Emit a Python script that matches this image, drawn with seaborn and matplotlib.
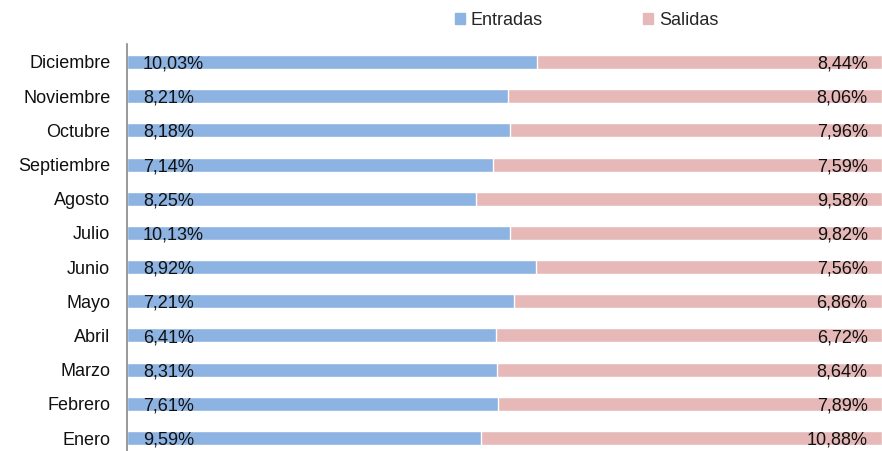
import numpy as np
import pandas as pd
import matplotlib.pyplot as plt
import seaborn as sns
from matplotlib.patches import Patch

meses = ['Enero', 'Febrero', 'Marzo', 'Abril', 'Mayo', 'Junio', 'Julio',
         'Agosto', 'Septiembre', 'Octubre', 'Noviembre', 'Diciembre']
entradas = [9.59, 7.61, 8.31, 6.41, 7.21, 8.92, 10.13, 8.25, 7.14, 8.18, 8.21, 10.03]
salidas = [10.88, 7.89, 8.64, 6.72, 6.86, 7.56, 9.82, 9.58, 7.59, 7.96, 8.06, 8.44]

azul = '#8DB3E2'
rosa = '#E6B9B8'

df = pd.DataFrame({'Mes': meses, 'Entradas': entradas, 'Salidas': salidas})
df['Total'] = df['Entradas'] + df['Salidas']
df['share_ent'] = df['Entradas'] / df['Total']
df['share_tot'] = 1.0
orden = meses[::-1]

sns.set_style('white')
plt.rcParams['font.family'] = ['Liberation Sans', 'DejaVu Sans']
fs = 13

fig = plt.figure(figsize=(8.82, 4.51), dpi=100)
ax = fig.add_axes([0.144, 0.0, 0.856, 0.902])

sns.barplot(data=df, x='share_tot', y='Mes', order=orden, color=rosa,
            width=0.41, saturation=1, ax=ax, orient='h')
sns.barplot(data=df, x='share_ent', y='Mes', order=orden, color=azul,
            width=0.41, saturation=1, ax=ax, orient='h')

for i, mes in enumerate(orden):
    row = df[df['Mes'] == mes].iloc[0]
    ax.text(0.021, i + 0.06, f"{row['Entradas']:.2f}%".replace('.', ','),
            va='center', ha='left', fontsize=fs, color='#111111')
    ax.text(0.981, i + 0.06, f"{row['Salidas']:.2f}%".replace('.', ','),
            va='center', ha='right', fontsize=fs, color='#111111')

ax.set_xlim(0, 1)
ax.set_ylim(11.38, -0.52)
ax.set_xlabel('')
ax.set_ylabel('')
ax.set_xticks([])
ax.tick_params(axis='y', length=0, labelsize=fs, pad=12, colors='#111111')
for s in ['top', 'right', 'bottom']:
    ax.spines[s].set_visible(False)
ax.spines['left'].set_color('#888888')
ax.spines['left'].set_linewidth(1.2)

handles = [Patch(color=azul, label='Entradas'), Patch(color=rosa, label='Salidas')]
fig.legend(handles=handles, loc='center', bbox_to_anchor=(0.665, 0.955), ncol=2,
           frameon=False, fontsize=fs, handlelength=0.55, handleheight=0.6,
           handletextpad=0.3, columnspacing=5.6)

fig.savefig('out.png', dpi=100)
